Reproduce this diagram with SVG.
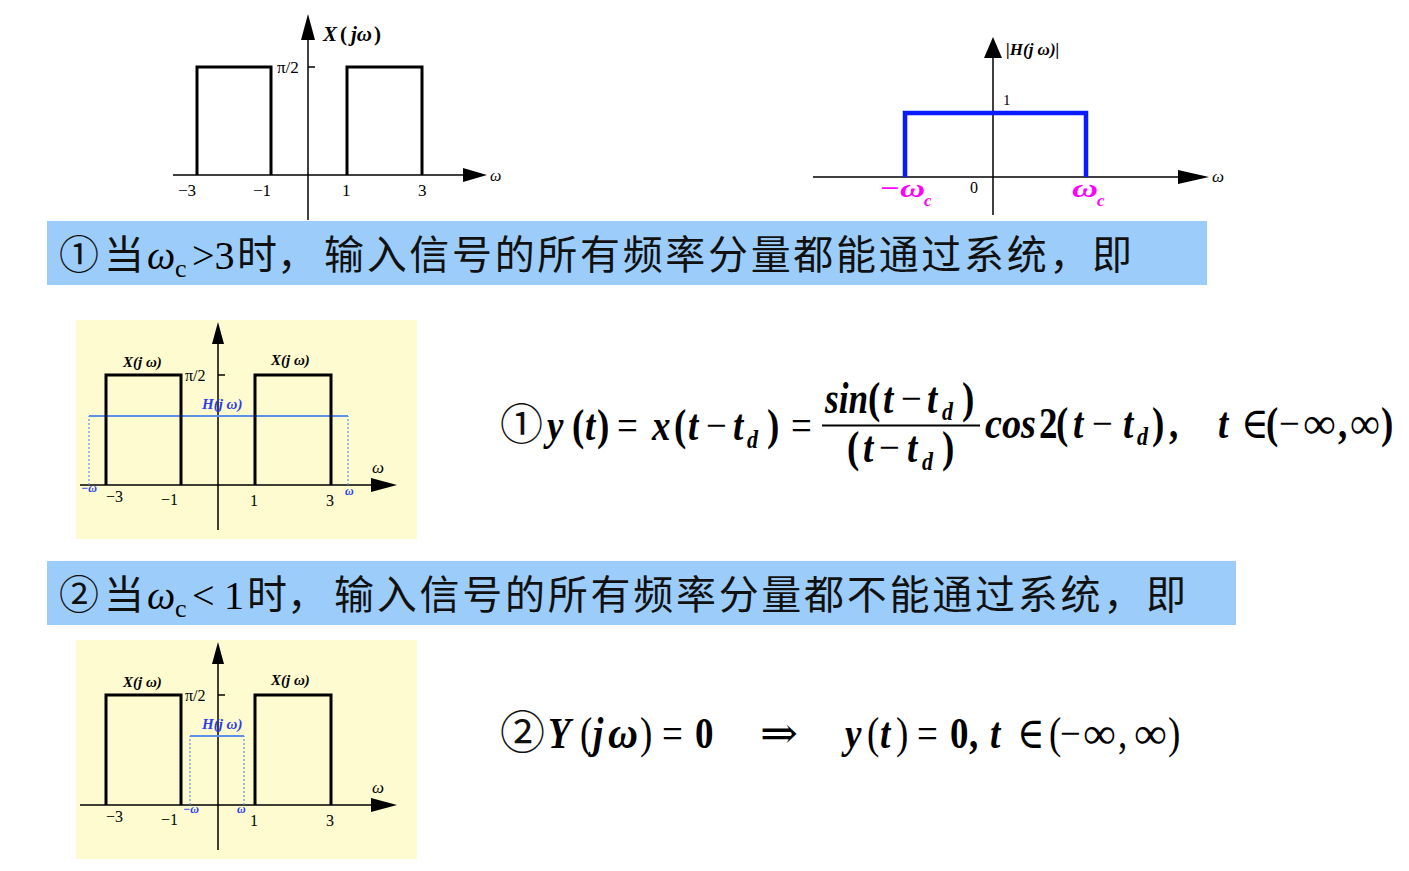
<svg xmlns="http://www.w3.org/2000/svg" width="1409" height="871" viewBox="0 0 1409 871">
<style>
.ax{stroke:#000;stroke-width:1.5;fill:none}
.sig{stroke:#000;stroke-width:3;fill:none}
.m{font-family:"Liberation Serif","Times New Roman","DejaVu Serif",serif;fill:#000}
.bi{font-weight:bold;font-style:italic}
.b{font-weight:bold}
.it{font-style:italic}
.hz{font-family:"Noto Sans CJK SC",sans-serif;fill:#111}
.banner{fill:#9ccdfa}
.panel{fill:#fdfbcf}
.hb{stroke:#5b8fe8;stroke-width:1.8;fill:none}
.hd{stroke:#5b8fe8;stroke-width:1.2;stroke-dasharray:2 2;fill:none}
.blue{fill:#2a3ef0}
.mag{fill:#ff00ff}
.f{font-size:37px}
.sub{font-size:22px}
</style>
<rect width="1409" height="871" fill="#fff"/>

<g id="plot-x">
<line class="ax" x1="173" y1="175" x2="466" y2="175"/>
<polygon points="487,175 463,168 463,182" fill="#000"/>
<line class="ax" x1="308" y1="220" x2="308" y2="36"/>
<polygon points="308,14 301,40 315,40" fill="#000"/>
<polyline class="sig" points="197,175 197,67 271,67 271,175"/>
<polyline class="sig" points="347,175 347,67 422,67 422,175"/>
<line class="ax" x1="308" y1="67" x2="315" y2="67"/>
<text class="m" x="277" y="73" font-size="17">π/2</text>
<text class="m bi" x="323" y="41" font-size="21" fill="#1a1a1a">X</text>
<text class="m b" x="340" y="41" font-size="21">(</text>
<text class="m bi" x="351" y="41" font-size="21">jω</text>
<text class="m b" x="374" y="41" font-size="21">)</text>
<text class="m it" x="490" y="181" font-size="16">ω</text>
<text class="m" x="178" y="196" font-size="17">−3</text>
<text class="m" x="253" y="196" font-size="17">−1</text>
<text class="m" x="342" y="196" font-size="17">1</text>
<text class="m" x="418" y="196" font-size="17">3</text>
</g>

<g id="plot-h">
<line class="ax" x1="813" y1="177" x2="1182" y2="177"/>
<polygon points="1209,177 1178,170 1178,184" fill="#000"/>
<line class="ax" x1="993" y1="215" x2="993" y2="56"/>
<polygon points="993,37 984,58 1002,58" fill="#000"/>
<polyline points="905,177 905,113 1086,113 1086,177" fill="none" stroke="#0a1aff" stroke-width="4.5"/>
<text class="m bi" x="1006" y="55" font-size="17">|H(j ω)|</text>
<text class="m" x="1003" y="105" font-size="15">1</text>
<text class="m" x="970" y="193" font-size="16">0</text>
<text class="m bi mag" x="879" y="197" font-size="26" textLength="46" lengthAdjust="spacingAndGlyphs">−ω</text>
<text class="m bi mag" x="924" y="206" font-size="17">c</text>
<text class="m bi mag" x="1072" y="197" font-size="26" textLength="26" lengthAdjust="spacingAndGlyphs">ω</text>
<text class="m bi mag" x="1097" y="206" font-size="17">c</text>
<text class="m it" x="1212" y="182" font-size="17">ω</text>
</g>

<g id="banner-1">
<rect class="banner" x="47" y="221" width="1160" height="64"/>
<text class="hz" x="59" y="269" font-size="40">①</text>
<text class="hz" x="104" y="269" font-size="40">当</text>
<text class="m it" x="147" y="269" font-size="40">ω</text>
<text class="m" x="175" y="277" font-size="26">c</text>
<text class="m" x="192" y="269" font-size="40">&gt;3</text>
<text class="hz" x="237" y="269" font-size="40">时，</text>
<text class="hz" x="324" y="269" font-size="40" textLength="808" lengthAdjust="spacing">输入信号的所有频率分量都能通过系统，即</text>
</g>

<g id="panel-1">
<rect class="panel" x="76" y="320" width="341" height="219"/>
<line class="ax" x1="80" y1="485" x2="375" y2="485"/>
<polygon points="397,485 371,478 371,492" fill="#000"/>
<line class="ax" x1="218" y1="530" x2="218" y2="340"/>
<polygon points="218,322 212,344 224,344" fill="#000"/>
<polyline class="hd" points="89,485 89,416"/>
<polyline class="hd" points="348,485 348,416"/>
<line class="hb" x1="89" y1="416" x2="348" y2="416"/>
<polyline class="sig" points="106,485 106,375 181,375 181,485"/>
<polyline class="sig" points="255,485 255,375 331,375 331,485"/>
<line class="ax" x1="218" y1="375" x2="225" y2="375"/>
<text class="m" x="185" y="381" font-size="16">π/2</text>
<text class="m bi" x="123" y="367" font-size="15">X(j ω)</text>
<text class="m bi" x="271" y="365" font-size="15">X(j ω)</text>
<text class="m bi blue" x="202" y="409" font-size="15">H(j ω)</text>
<text class="m it" x="372" y="473" font-size="17">ω</text>
<text class="m" x="106" y="502" font-size="16">−3</text>
<text class="m" x="161" y="505" font-size="16">−1</text>
<text class="m" x="250" y="506" font-size="16">1</text>
<text class="m" x="326" y="506" font-size="16">3</text>
<text class="m bi blue" x="81" y="492" font-size="12">−ω</text>
<text class="m bi blue" x="345" y="495" font-size="12">ω</text>
</g>

<g id="formula-1">
<text class="hz" x="500" y="440" font-size="43">①</text>
<g transform="translate(0,440) scale(1,1.18)">
<text class="m bi f" x="547" y="0">y</text>
<text class="m b f" x="572" y="0">(</text>
<text class="m bi f" x="585" y="0">t</text>
<text class="m b f" x="597" y="0">)</text>
<text class="m f" x="617" y="0">=</text>
<text class="m bi f" x="652" y="0">x</text>
<text class="m b f" x="674" y="0">(</text>
<text class="m bi f" x="688" y="0">t</text>
<text class="m f" x="706" y="0">−</text>
<text class="m bi f" x="733" y="0">t</text>
<text class="m bi sub" x="747" y="7">d</text>
<text class="m b f" x="767" y="0">)</text>
<text class="m f" x="791" y="0">=</text>
</g>
<g transform="translate(0,413) scale(1,1.18)">
<text class="m bi f" x="825" y="0" textLength="43" lengthAdjust="spacingAndGlyphs">sin</text>
<text class="m b f" x="868" y="0">(</text>
<text class="m bi f" x="883" y="0">t</text>
<text class="m f" x="901" y="0">−</text>
<text class="m bi f" x="927" y="0">t</text>
<text class="m bi sub" x="942" y="6">d</text>
<text class="m b f" x="962" y="0">)</text>
</g>
<line x1="822" y1="425.5" x2="980" y2="425.5" stroke="#000" stroke-width="2"/>
<g transform="translate(0,462) scale(1,1.18)">
<text class="m b f" x="847" y="0">(</text>
<text class="m bi f" x="863" y="0">t</text>
<text class="m f" x="879" y="0">−</text>
<text class="m bi f" x="907" y="0">t</text>
<text class="m bi sub" x="922" y="7">d</text>
<text class="m b f" x="942" y="0">)</text>
</g>
<g transform="translate(0,438) scale(1,1.18)">
<text class="m bi f" x="985" y="0" textLength="51" lengthAdjust="spacingAndGlyphs">cos</text>
<text class="m b f" x="1039" y="0">2</text>
<text class="m b f" x="1056" y="0">(</text>
<text class="m bi f" x="1073" y="0">t</text>
<text class="m f" x="1092" y="0">−</text>
<text class="m bi f" x="1123" y="0">t</text>
<text class="m bi sub" x="1137" y="6">d</text>
<text class="m b f" x="1152" y="0">)</text>
<text class="m b f" x="1169" y="0">,</text>
<text class="m bi f" x="1218" y="0">t</text>
<text class="m f" x="1241" y="0">∈</text>
<text class="m b f" x="1266" y="0">(</text>
<text class="m f" x="1279" y="0">−</text>
<text class="m f" x="1303" y="0" textLength="33" lengthAdjust="spacingAndGlyphs">∞</text>
<text class="m b f" x="1338" y="0">,</text>
<text class="m f" x="1350" y="0" textLength="30" lengthAdjust="spacingAndGlyphs">∞</text>
<text class="m b f" x="1381" y="0">)</text>
</g>
</g>

<g id="banner-2">
<rect class="banner" x="47" y="561" width="1189" height="64"/>
<text class="hz" x="59" y="609" font-size="40">②</text>
<text class="hz" x="104" y="609" font-size="40">当</text>
<text class="m it" x="147" y="609" font-size="40">ω</text>
<text class="m" x="175" y="617" font-size="26">c</text>
<text class="m" x="192" y="609" font-size="40">&lt;</text>
<text class="m" x="224" y="609" font-size="40">1</text>
<text class="hz" x="247" y="609" font-size="40">时，</text>
<text class="hz" x="334" y="609" font-size="40" textLength="852" lengthAdjust="spacing">输入信号的所有频率分量都不能通过系统，即</text>
</g>

<g id="panel-2">
<rect class="panel" x="76" y="640" width="341" height="219"/>
<line class="ax" x1="80" y1="805" x2="375" y2="805"/>
<polygon points="397,805 371,798 371,812" fill="#000"/>
<line class="ax" x1="218" y1="850" x2="218" y2="660"/>
<polygon points="218,642 212,664 224,664" fill="#000"/>
<polyline class="hd" points="190,805 190,736"/>
<polyline class="hd" points="244,805 244,736"/>
<line class="hb" x1="190" y1="736" x2="244" y2="736"/>
<polyline class="sig" points="106,805 106,695 181,695 181,805"/>
<polyline class="sig" points="255,805 255,695 331,695 331,805"/>
<line class="ax" x1="218" y1="695" x2="225" y2="695"/>
<text class="m" x="185" y="701" font-size="16">π/2</text>
<text class="m bi" x="123" y="687" font-size="15">X(j ω)</text>
<text class="m bi" x="271" y="685" font-size="15">X(j ω)</text>
<text class="m bi blue" x="202" y="729" font-size="15">H(j ω)</text>
<text class="m it" x="372" y="793" font-size="17">ω</text>
<text class="m" x="106" y="822" font-size="16">−3</text>
<text class="m" x="161" y="825" font-size="16">−1</text>
<text class="m" x="250" y="826" font-size="16">1</text>
<text class="m" x="326" y="826" font-size="16">3</text>
<text class="m bi blue" x="183" y="813" font-size="12">−ω</text>
<text class="m bi blue" x="237" y="813" font-size="12">ω</text>
</g>

<g id="formula-2">
<text class="hz" x="500" y="749" font-size="45">②</text>
<g transform="translate(0,748) scale(1,1.18)">
<text class="m bi f" x="548" y="0">Y</text>
<text class="m f" x="580" y="0">(</text>
<text class="m bi f" x="593" y="0">j</text>
<text class="m bi f" x="608" y="0" textLength="30" lengthAdjust="spacingAndGlyphs">ω</text>
<text class="m f" x="640" y="0">)</text>
<text class="m f" x="662" y="0">=</text>
<text class="m b f" x="695" y="0">0</text>
<text class="m f" x="760" y="0" textLength="38" lengthAdjust="spacingAndGlyphs">⇒</text>
<text class="m bi f" x="845" y="0">y</text>
<text class="m f" x="867" y="0">(</text>
<text class="m bi f" x="880" y="0">t</text>
<text class="m f" x="896" y="0">)</text>
<text class="m f" x="917" y="0">=</text>
<text class="m b f" x="950" y="0">0</text>
<text class="m b f" x="969" y="0">,</text>
<text class="m bi f" x="990" y="0">t</text>
<text class="m f" x="1017" y="0">∈</text>
<text class="m f" x="1049" y="0">(</text>
<text class="m f" x="1060" y="0">−</text>
<text class="m f" x="1083" y="0" textLength="33" lengthAdjust="spacingAndGlyphs">∞</text>
<text class="m f" x="1118" y="0">,</text>
<text class="m f" x="1134" y="0" textLength="33" lengthAdjust="spacingAndGlyphs">∞</text>
<text class="m f" x="1168" y="0">)</text>
</g>
</g>
</svg>
